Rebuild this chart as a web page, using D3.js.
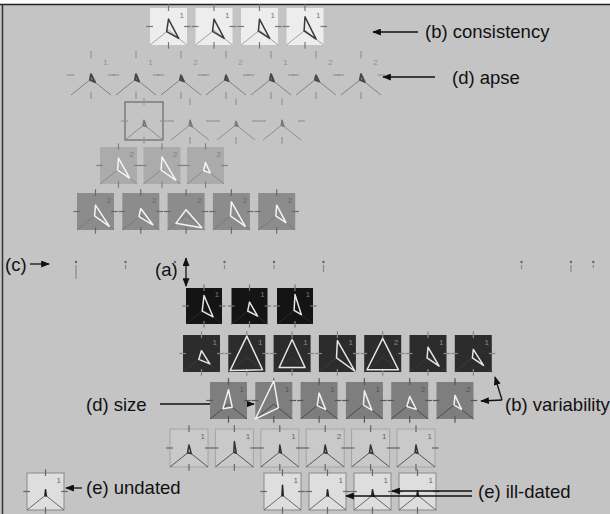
<!DOCTYPE html>
<html>
<head>
<meta charset="utf-8">
<script src="https://cdn.jsdelivr.net/npm/d3@7"></script>
<style>
  html, body { margin: 0; padding: 0; background: #c4c4c4; }
  svg { display: block; }
</style>
</head>
<body>
<svg id="chart" width="610" height="514"></svg>
<script>
// glyph values: [up, lower-left, lower-right] radial lengths (0..1)
var consistencyVals = [[0.5, 0.1, 0.55], [0.5, 0.08, 0.55], [0.5, 0.06, 0.55], [0.6, 0.05, 0.6]];
var consistencyTags = ["1", "1", "1", "1"];
var apseVals = [[0.2, 0.05, 0.2], [0.2, 0.05, 0.15], [0.15, 0.05, 0.15], [0.15, 0.05, 0.12], [0.2, 0.05, 0.15], [0.15, 0.05, 0.15], [0.2, 0.05, 0.18]];
var apseTags = ["1", "1", "2", "2", "1", "2", "2"];
var row3Vals = [[0.2, 0.05, 0.12], [0.2, 0.04, 0.12], [0.15, 0.05, 0.1], [0.2, 0.04, 0.1]];
var row3Tags = ["", "", "", ""];
var row4Vals = [[0.5, 0.05, 0.6], [0.55, 0.05, 0.75], [0.3, 0.1, 0.25]];
var row4Tags = ["2", "2", "2"];
var row5Vals = [[0.45, 0.05, 0.75], [0.3, 0.1, 0.65], [0.25, 0.55, 0.85], [0.6, 0.05, 0.75], [0.45, 0.05, 0.5]];
var row5Tags = ["2", "2", "2", "2", "2"];
var cSlots = [0, 1, 2, 3, 4, 5, 9, 10, 10.45];
var cHeights = [14, 4, 4, 4, 4, 7, 4, 7, 3];
var row7Vals = [[0.65, 0.1, 0.5], [0.35, 0.1, 0.45], [0.7, 0.05, 0.35]];
var row7Tags = ["1", "1", "1"];
var row8Vals = [[0.3, 0.15, 0.45], [0.95, 0.9, 0.85], [0.8, 0.7, 0.7], [0.75, 0.05, 0.95], [0.85, 0.85, 0.85], [0.45, 0.05, 0.6], [0.35, 0.05, 0.55]];
var row8Tags = ["1", "1", "1", "1", "2", "1", "1"];
var row9Vals = [[0.65, 0.3, 0.2], [1.05, 1.0, 0.25], [0.5, 0.1, 0.35], [0.6, 0.05, 0.4], [0.35, 0.15, 0.35], [0.4, 0.05, 0.35]];
var row9Tags = ["1", "1", "1", "1", "2", "2"];
var row10Vals = [[0.3, 0.08, 0.12], [0.45, 0.03, 0.1], [0.3, 0.03, 0.08], [0.3, 0.06, 0.1], [0.3, 0.06, 0.12], [0.3, 0.05, 0.1]];
var row10Tags = ["1", "1", "1", "2", "1", "1"];
var undatedVals = [[0.25, 0.03, 0.05]];
var undatedTags = ["1"];
var illVals = [[0.45, 0.03, 0.04], [0.25, 0.03, 0.05], [0.25, 0.04, 0.08], [0.2, 0.03, 0.06]];
var illTags = ["1", "1", "1", "1"];

var svg = d3.select("#chart");

// frame
svg.append("rect").attr("x", 0).attr("y", 0).attr("width", 610).attr("height", 4).attr("fill", "#fafafa");
svg.append("line").attr("x1", 0).attr("x2", 610).attr("y1", 4.5).attr("y2", 4.5).attr("stroke", "#222").attr("stroke-width", 1.5);
svg.append("line").attr("x1", 2.5).attr("x2", 2.5).attr("y1", 4).attr("y2", 514).attr("stroke", "#333").attr("stroke-width", 1.5);

var defs = svg.append("defs");
defs.append("marker")
    .attr("id", "head")
    .attr("viewBox", "0 0 10 8")
    .attr("refX", 9).attr("refY", 4)
    .attr("markerWidth", 9).attr("markerHeight", 7)
    .attr("markerUnits", "userSpaceOnUse")
    .attr("orient", "auto-start-reverse")
    .append("path").attr("d", "M0,0 L10,4 L0,8 z").attr("fill", "#111");

var C = [0.5, 0.6];
var ends = [[0.5, 0], [0, 1], [1, 1]];

function drawRow(vals, tags, L) {
    var xs = d3.scaleLinear().domain([0, 1]).range([L.x0, L.x0 + L.step]);
    var u = d3.scaleLinear().domain([0, 1]).range([0, L.size]);
    var g = svg.append("g").attr("opacity", L.opacity || 1);
    var cell = g.selectAll("g.glyph")
        .data(vals)
        .join("g")
        .attr("class", "glyph")
        .attr("transform", function(d, i) { return "translate(" + xs(i) + "," + L.y + ")"; });

    cell.append("rect")
        .attr("width", u(1)).attr("height", u(1))
        .attr("fill", function(d, i) { return (L.fillFirst && i === 0) ? L.fillFirst : L.fill; })
        .attr("stroke", function(d, i) { return (L.strokeFirst && i === 0) ? L.strokeFirst : (L.stroke || "none"); })
        .attr("stroke-width", 1);

    // radar axes toward lower corners
    cell.selectAll("line.axis")
        .data([ends[1], ends[2]])
        .join("line")
        .attr("class", "axis")
        .attr("x1", u(C[0])).attr("y1", u(C[1]))
        .attr("x2", function(e) { return u(e[0]); })
        .attr("y2", function(e) { return u(e[1]); })
        .attr("stroke", L.axis).attr("stroke-width", 1);

    // side ticks
    var ticks = [[0.5, -0.1, 0.5, 0.08], [0.5, 0.92, 0.5, 1.1], [-0.1, 0.5, 0.08, 0.5], [0.92, 0.5, 1.1, 0.5]];
    cell.selectAll("line.tick")
        .data(ticks)
        .join("line")
        .attr("class", "tick")
        .attr("x1", function(t) { return u(t[0]); }).attr("y1", function(t) { return u(t[1]); })
        .attr("x2", function(t) { return u(t[2]); }).attr("y2", function(t) { return u(t[3]); })
        .attr("stroke", L.tick).attr("stroke-width", 1.2);

    cell.append("text")
        .attr("x", u(0.86)).attr("y", u(0.26))
        .attr("font-family", "Liberation Sans, Arial, sans-serif")
        .attr("font-size", 8)
        .attr("fill", L.tick)
        .attr("text-anchor", "middle")
        .text(function(d, i) { return tags[i]; });

    var tri = d3.line()
        .x(function(p) { return u(p[0]); })
        .y(function(p) { return u(p[1]); })
        .curve(d3.curveLinearClosed);

    cell.append("path")
        .attr("d", function(d) {
            var pts = d.map(function(v, k) {
                return [C[0] + v * (ends[k][0] - C[0]), C[1] + v * (ends[k][1] - C[1])];
            });
            return tri(pts);
        })
        .attr("fill", "none")
        .attr("stroke", L.tri)
        .attr("stroke-width", L.triWidth || 1.5)
        .attr("stroke-linejoin", "round");
}

// arrow helper
function arrow(pts, both) {
    svg.append("path")
        .attr("d", d3.line()(pts))
        .attr("fill", "none")
        .attr("stroke", "#111")
        .attr("stroke-width", 1.3)
        .attr("marker-end", "url(#head)")
        .attr("marker-start", both ? "url(#head)" : null);
}

// (d) size arrow runs behind the first square of its row
arrow([[160, 404], [254, 404]]);

drawRow(consistencyVals, consistencyTags, {x0: 150, step: 45.5, y: 8, size: 37, fill: "#ededed", axis: "#a0a0a0", tick: "#777", tri: "#3a3a3a"});
drawRow(apseVals, apseTags, {x0: 71, step: 45, y: 55, size: 40, fill: "none", axis: "#777", tick: "#8a8a8a", tri: "#333", triWidth: 2, opacity: 0.85});
drawRow(row3Vals, row3Tags, {x0: 125, step: 46, y: 102, size: 38, fill: "none", strokeFirst: "#555", axis: "#8e8e8e", tick: "#929292", tri: "#777"});
drawRow(row4Vals, row4Tags, {x0: 100, step: 43.5, y: 147, size: 37, fill: "#ababab", axis: "#8a8a8a", tick: "#808080", tri: "#f4f4f4"});
drawRow(row5Vals, row5Tags, {x0: 77, step: 45.3, y: 193, size: 37, fill: "#8c8c8c", axis: "#7a7a7a", tick: "#6a6a6a", tri: "#f4f4f4"});

// (c) row: collapsed glyphs shown only as small marks
var cx = d3.scaleLinear().domain([0, 1]).range([76, 125.5]);
var cg = svg.append("g");
cg.selectAll("circle").data(cSlots).join("circle")
    .attr("cx", function(d) { return cx(d); }).attr("cy", 262)
    .attr("r", 1.2).attr("fill", "#666");
cg.selectAll("line").data(cSlots).join("line")
    .attr("x1", function(d) { return cx(d); }).attr("x2", function(d) { return cx(d); })
    .attr("y1", 265).attr("y2", function(d, i) { return 265 + cHeights[i]; })
    .attr("stroke", "#888").attr("stroke-width", 1.2);

drawRow(row7Vals, row7Tags, {x0: 186, step: 45.5, y: 288, size: 36, fill: "#141414", axis: "#2a2a2a", tick: "#777", tri: "#e6e6e6"});
drawRow(row8Vals, row8Tags, {x0: 183, step: 45.3, y: 335, size: 37, fill: "#2c2c2c", axis: "#3a3a3a", tick: "#888", tri: "#e6e6e6"});
drawRow(row9Vals, row9Tags, {x0: 210, step: 45.3, y: 382, size: 37, fill: "#7e7e7e", axis: "#4a4a4a", tick: "#555", tri: "#f0f0f0"});
drawRow(row10Vals, row10Tags, {x0: 170, step: 45.4, y: 429, size: 38, fill: "#c9c9c9", stroke: "#a4a4a4", axis: "#555", tick: "#666", tri: "#333"});
drawRow(undatedVals, undatedTags, {x0: 27, step: 45, y: 473, size: 37, fill: "#dedede", stroke: "#888", axis: "#666", tick: "#666", tri: "#222"});
drawRow(illVals, illTags, {x0: 264, step: 45, y: 473, size: 37, fill: "#dedede", stroke: "#8a8a8a", axis: "#666", tick: "#666", tri: "#222"});

// annotations
arrow([[418, 32], [373, 32]]);
arrow([[435, 77], [383, 77]]);
arrow([[30, 264], [49, 264]]);
arrow([[186, 258], [186, 286]], true);
arrow([[502, 400], [481, 401]]);
arrow([[502, 400], [495, 377]]);
arrow([[82, 488], [66, 488]]);
arrow([[472, 491], [392, 491]]);
arrow([[472, 496], [346, 496]]);

var labels = [
    {t: "(b) consistency", x: 425, y: 38},
    {t: "(d) apse", x: 452, y: 84},
    {t: "(c)", x: 5, y: 271},
    {t: "(a)", x: 155, y: 276},
    {t: "(d) size", x: 86, y: 411},
    {t: "(b) variability", x: 505, y: 411},
    {t: "(e) undated", x: 86, y: 494},
    {t: "(e) ill-dated", x: 478, y: 498}
];
svg.selectAll("text.note").data(labels).join("text")
    .attr("class", "note")
    .attr("x", function(d) { return d.x; })
    .attr("y", function(d) { return d.y; })
    .attr("font-family", "Liberation Sans, Arial, sans-serif")
    .attr("font-size", 18.5)
    .attr("fill", "#111")
    .text(function(d) { return d.t; });
</script>
</body>
</html>
